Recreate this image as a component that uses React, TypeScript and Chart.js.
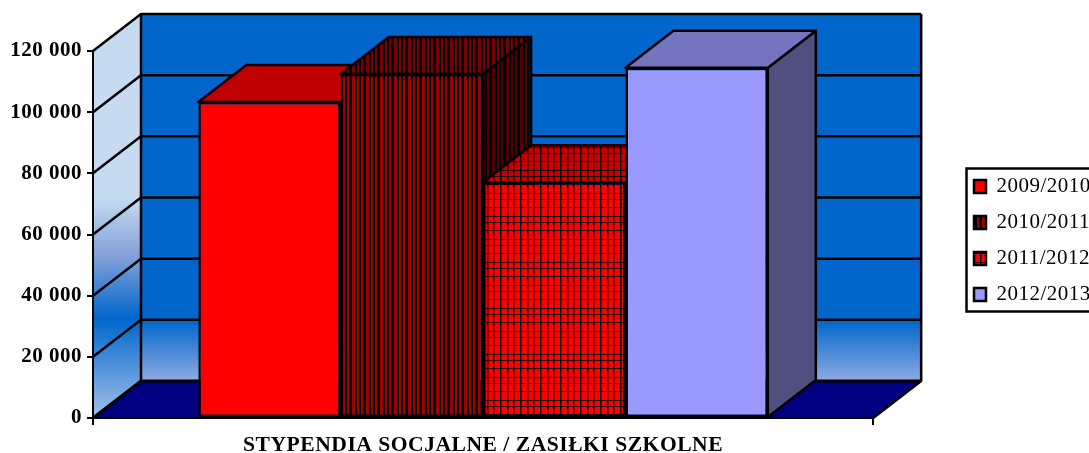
import React, { useEffect, useRef } from "react";
import { Chart, registerables } from "chart.js";

Chart.register(...registerables);

const categories = ["STYPENDIA SOCJALNE / ZASIŁKI SZKOLNE"];
const seriesNames = ["2009/2010", "2010/2011", "2011/2012", "2012/2013"];
const values2009 = [103300];
const values2010 = [112500];
const values2011 = [77100];
const values2012 = [114500];
const yTicks = [0, 20000, 40000, 60000, 80000, 100000, 120000];

const DEPTH_X = 48;
const DEPTH_Y = 37;
const LINE = 2.5;
const FONT = "'Liberation Serif', serif";

type Paint = string | CanvasPattern;

function tile(w: number, h: number, draw: (c: CanvasRenderingContext2D) => void): CanvasPattern {
  const cv = document.createElement("canvas");
  cv.width = w;
  cv.height = h;
  const c = cv.getContext("2d")!;
  draw(c);
  return c.createPattern(cv, "repeat")!;
}

function stripes(color: string): CanvasPattern {
  return tile(14, 4, (c) => {
    c.fillStyle = "#000";
    c.fillRect(0, 0, 14, 4);
    c.fillStyle = color;
    c.fillRect(2, 0, 3, 4);
    c.fillRect(7, 0, 2, 4);
    c.fillRect(11, 0, 2, 4);
  });
}

function lattice(color: string, soft: string): CanvasPattern {
  return tile(20, 23, (c) => {
    c.fillStyle = color;
    c.fillRect(0, 0, 20, 23);
    c.fillStyle = soft;
    c.fillRect(1, 0, 1, 23);
    c.fillRect(8, 0, 1, 23);
    c.fillRect(14, 0, 1, 23);
    c.fillStyle = "#000";
    c.fillRect(0, 0, 1, 23);
    c.fillRect(7, 0, 1, 23);
    c.fillRect(13, 0, 1, 23);
    c.fillStyle = "#200000";
    c.fillRect(0, 0, 20, 1);
    c.fillRect(0, 9, 20, 1);
    c.fillRect(0, 15, 20, 1);
  });
}

function drawFaces(ctx: CanvasRenderingContext2D, ds: any, meta: any) {
  const bar = meta.data[0].getProps(["x", "y", "base", "width"], true);
  const l = bar.x - bar.width / 2;
  const r = bar.x + bar.width / 2;
  ctx.save();
  ctx.strokeStyle = "#000";
  ctx.lineWidth = LINE;
  ctx.lineJoin = "round";
  ctx.fillStyle = ds.sideColor;
  ctx.beginPath();
  ctx.moveTo(r, bar.y);
  ctx.lineTo(r + DEPTH_X, bar.y - DEPTH_Y);
  ctx.lineTo(r + DEPTH_X, bar.base - DEPTH_Y);
  ctx.lineTo(r, bar.base);
  ctx.closePath();
  ctx.fill();
  ctx.stroke();
  ctx.fillStyle = ds.topColor;
  ctx.beginPath();
  ctx.moveTo(l, bar.y);
  ctx.lineTo(l + DEPTH_X, bar.y - DEPTH_Y);
  ctx.lineTo(r + DEPTH_X, bar.y - DEPTH_Y);
  ctx.lineTo(r, bar.y);
  ctx.closePath();
  ctx.fill();
  ctx.stroke();
  ctx.restore();
}

const wallPlugin = {
  id: "walls",
  beforeUpdate(chart: any) {
    chart.ctx.letterSpacing = "0.5px";
  },
  beforeDraw(chart: any) {
    const { ctx, chartArea, scales } = chart;
    ctx.letterSpacing = "0.5px";
    const legend = chart.legend;
    const w = legend.width;
    const h = legend.height;
    legend.left = 959;
    legend.top = 161;
    legend.right = 959 + w;
    legend.bottom = 161 + h;

    const { left, right, top, bottom } = chartArea;
    const bl = left + DEPTH_X;
    const br = right + DEPTH_X;
    const bt = top - DEPTH_Y;
    const bb = bottom - DEPTH_Y;

    ctx.save();
    ctx.lineJoin = "round";
    ctx.fillStyle = "#fff";
    ctx.fillRect(0, 0, chart.width, chart.height);

    const backGrad = ctx.createLinearGradient(0, bt, 0, bb);
    backGrad.addColorStop(0, "#0066CC");
    backGrad.addColorStop(0.834, "#0066CC");
    backGrad.addColorStop(1, "#8FABE2");
    ctx.fillStyle = backGrad;
    ctx.fillRect(bl, bt, br - bl, bb - bt);

    const sideGrad = ctx.createLinearGradient(0, bt, 0, bottom);
    sideGrad.addColorStop(0, "#C6DBF2");
    sideGrad.addColorStop(0.454, "#C6DBF2");
    sideGrad.addColorStop(0.605, "#7F9FD8");
    sideGrad.addColorStop(0.754, "#0066CC");
    sideGrad.addColorStop(1, "#A3C0EA");
    ctx.fillStyle = sideGrad;
    ctx.beginPath();
    ctx.moveTo(left, top);
    ctx.lineTo(bl, bt);
    ctx.lineTo(bl, bb);
    ctx.lineTo(left, bottom);
    ctx.closePath();
    ctx.fill();

    ctx.fillStyle = "#000080";
    ctx.beginPath();
    ctx.moveTo(left, bottom);
    ctx.lineTo(bl, bb);
    ctx.lineTo(br, bb);
    ctx.lineTo(right, bottom);
    ctx.closePath();
    ctx.fill();

    ctx.strokeStyle = "#000";
    for (const v of yTicks) {
      const y = scales.y.getPixelForValue(v);
      ctx.lineWidth = v === 0 ? 3 : LINE;
      ctx.beginPath();
      ctx.moveTo(left, y);
      ctx.lineTo(bl, y - DEPTH_Y);
      ctx.lineTo(br, y - DEPTH_Y);
      ctx.stroke();
    }
    ctx.lineWidth = LINE;
    ctx.beginPath();
    ctx.moveTo(bl, bt);
    ctx.lineTo(bl, bb);
    ctx.moveTo(br, bt);
    ctx.lineTo(br, bb);
    ctx.lineTo(right, bottom);
    ctx.stroke();
    ctx.restore();
  },
  beforeDatasetsDraw(chart: any) {
    const metas = chart.getSortedVisibleDatasetMetas();
    for (const meta of metas) {
      meta.controller.draw();
      drawFaces(chart.ctx, chart.data.datasets[meta.index], meta);
    }
    return false;
  },
  afterDraw(chart: any) {
    const { ctx } = chart;
    ctx.save();
    ctx.strokeStyle = "#000";
    ctx.lineWidth = LINE;
    ctx.strokeRect(966.5, 168.5, 200, 143);
    ctx.restore();
  },
};

function series(label: string, data: number[], front: Paint, top: Paint, side: Paint) {
  return {
    label,
    data,
    backgroundColor: front,
    topColor: top,
    sideColor: side,
    borderColor: "#000",
    borderWidth: LINE,
    borderSkipped: false,
    categoryPercentage: 0.73,
    barPercentage: 1,
    clip: false,
  };
}

export default function App() {
  const ref = useRef<HTMLCanvasElement>(null);
  useEffect(() => {
    const chart = new Chart(ref.current!, {
      type: "bar",
      plugins: [wallPlugin],
      data: {
        labels: categories,
        datasets: [
          series(seriesNames[0], values2009, "#FF0000", "#BF0000", "#7F0000"),
          series(seriesNames[1], values2010, stripes("#A00000"), stripes("#780000"), stripes("#500000")),
          series(seriesNames[2], values2011, lattice("#FF0000", "#900000"), lattice("#C80000", "#700000"), lattice("#800000", "#400000")),
          series(seriesNames[3], values2012, "#9999FF", "#7575BF", "#4F4F80"),
        ] as any,
      },
      options: {
        animation: false,
        responsive: false,
        layout: { padding: { left: 0, right: 74, top: 51, bottom: 0 } },
        plugins: {
          title: { display: false },
          tooltip: { enabled: false },
          legend: {
            position: "right",
            align: "start",
            onClick: () => {},
            labels: {
              color: "#000",
              boxWidth: 12,
              boxHeight: 13,
              padding: 15,
              font: { family: FONT, size: 21 },
            },
          },
        },
        scales: {
          x: {
            type: "category",
            afterFit: (s: any) => {
              s.height = 35;
            },
            grid: { drawOnChartArea: false, drawTicks: true, tickLength: 7, color: "#000", lineWidth: 2 },
            border: { color: "#000", width: 2 },
            ticks: {
              color: "#000",
              maxRotation: 0,
              autoSkip: false,
              padding: 7,
              font: { family: FONT, size: 21.6, weight: "bold" },
            },
          },
          y: {
            type: "linear",
            min: 0,
            max: 120000,
            afterFit: (s: any) => {
              s.width = 93;
            },
            afterBuildTicks: (s: any) => {
              s.ticks = yTicks.map((value) => ({ value }));
            },
            grid: { drawOnChartArea: false, drawTicks: true, tickLength: 6, color: "#000", lineWidth: 2 },
            border: { color: "#000", width: 2 },
            ticks: {
              color: "#000",
              padding: 5,
              font: { family: FONT, size: 21, weight: "bold" },
              callback: (v: any) => String(v).replace(/\B(?=(\d{3})+$)/g, " "),
            },
          },
        },
      } as any,
    });
    return () => chart.destroy();
  }, []);
  return (
    <canvas
      ref={ref}
      width={1089}
      height={453}
      style={{ position: "absolute", left: 0, top: 0, display: "block" }}
    />
  );
}
